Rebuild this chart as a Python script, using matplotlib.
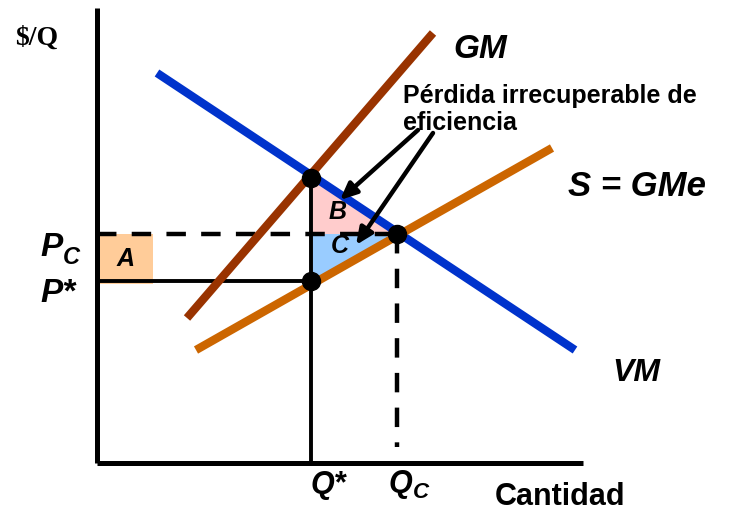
import matplotlib
matplotlib.use("Agg")
import matplotlib.pyplot as plt
from matplotlib.patches import Polygon, Rectangle

plt.rcParams['lines.scale_dashes'] = False

# Diagram geometry (chart units; y grows downward like the original sketch)
axis_origin = (97, 463)
axis_top = 8
axis_right = 583

vm_x = [157, 575]; vm_y = [73, 350]          # VM curve
gm_x = [187, 433]; gm_y = [318, 33]          # GM curve
s_x = [196, 552];  s_y = [350, 148]          # S = GMe curve

q_star, q_c = 311, 397
p_star, p_c = 281, 234
p_gm = 178                                   # VM at Q*
area_a_right = 153

points_x = [q_star, q_star, q_c]
points_y = [p_gm, p_star, p_c]

fig = plt.figure(figsize=(7.33, 5.11), dpi=100)
ax = fig.add_axes([0, 0, 1, 1])
ax.set_xlim(0, 733)
ax.set_ylim(511, 0)
ax.axis('off')

# shaded areas
ax.add_patch(Rectangle((axis_origin[0], p_c), area_a_right - axis_origin[0], p_star - p_c + 3,
                       facecolor='#FFCC99', edgecolor='none', zorder=1))
vm_slope = (vm_y[1] - vm_y[0]) / (vm_x[1] - vm_x[0])
vm_at_pc = vm_x[0] + (p_c - vm_y[0]) / vm_slope
ax.add_patch(Polygon([(q_star, p_gm), (q_star, p_c), (vm_at_pc, p_c)], closed=True,
                     facecolor='#FFCCCC', edgecolor='none', zorder=1))
ax.add_patch(Polygon([(q_star, p_c), (q_c, p_c), (q_star, p_star)], closed=True,
                     facecolor='#99CCFF', edgecolor='none', zorder=1))

# axes
ax.plot([axis_origin[0], axis_origin[0]], [axis_top, axis_origin[1]], color='black', lw=3.6,
        solid_capstyle='butt', zorder=2)
ax.plot([axis_origin[0], axis_right], [axis_origin[1], axis_origin[1]], color='black', lw=3.6,
        solid_capstyle='butt', zorder=2)

# guide lines
ax.plot([axis_origin[0], q_c], [p_c, p_c], color='black', lw=3.2, dashes=(14, 11), zorder=2)
ax.plot([q_c, q_c], [p_c, 447], color='black', lw=3.2, dashes=(14, 11), zorder=2)
ax.plot([axis_origin[0], q_star], [p_star, p_star], color='black', lw=2.8, zorder=2)
ax.plot([q_star, q_star], [p_gm, axis_origin[1]], color='black', lw=2.8, zorder=2)

# curves
ax.plot(vm_x, vm_y, color='#0033CC', lw=6.0, solid_capstyle='butt', zorder=3)
ax.plot(gm_x, gm_y, color='#993300', lw=6.0, solid_capstyle='butt', zorder=3)
ax.plot(s_x, s_y, color='#CC6600', lw=6.0, solid_capstyle='butt', zorder=3)

ax.plot(points_x, points_y, 'o', color='black', ms=13, zorder=5)

# arrows
for (x0, y0), (x1, y1) in [((418, 130), (340, 200)), ((433, 133), (356, 245))]:
    ax.annotate('', xy=(x1, y1), xytext=(x0, y0),
                arrowprops=dict(arrowstyle='-|>,head_length=1.0,head_width=0.45',
                                color='black', lw=3.2, shrinkA=0, shrinkB=0), zorder=6)

bi = dict(family='Liberation Sans', weight='bold', style='italic', color='black')
b = dict(family='Liberation Sans', weight='bold', color='black')

ax.text(15, 38, '$/Q', family='Liberation Serif', weight='bold', fontsize=20,
        va='center', ha='left')
ax.text(40, 248, 'P', fontsize=24, va='center', ha='left', **bi)
ax.text(63, 257, 'C', fontsize=17, va='center', ha='left', **bi)
ax.text(40, 293, 'P*', fontsize=24, va='center', ha='left', **bi)
ax.text(126, 259, 'A', fontsize=18, va='center', ha='center', **bi)
ax.text(338, 212, 'B', fontsize=18, va='center', ha='center', **bi)
ax.text(340, 246, 'C', fontsize=18, va='center', ha='center', **bi)
ax.text(328, 485, 'Q*', fontsize=22, va='center', ha='center', **bi)
ax.text(389, 484, 'Q', fontsize=22, va='center', ha='left', **bi)
ax.text(413, 492, 'C', fontsize=16, va='center', ha='left', **bi)
ax.text(560, 497, 'Cantidad', fontsize=22, va='center', ha='center', **b)
ax.text(453, 50, 'GM', fontsize=24, va='center', ha='left', **bi)
ax.text(568, 186, 'S = GMe', fontsize=25, va='center', ha='left', **bi)
ax.text(612, 373, 'VM', fontsize=23, va='center', ha='left', **bi)
ax.text(403, 96, 'Pérdida irrecuperable de', fontsize=18, va='center', ha='left', **b)
ax.text(403, 123, 'eficiencia', fontsize=18, va='center', ha='left', **b)

fig.savefig('out.png', dpi=100)
